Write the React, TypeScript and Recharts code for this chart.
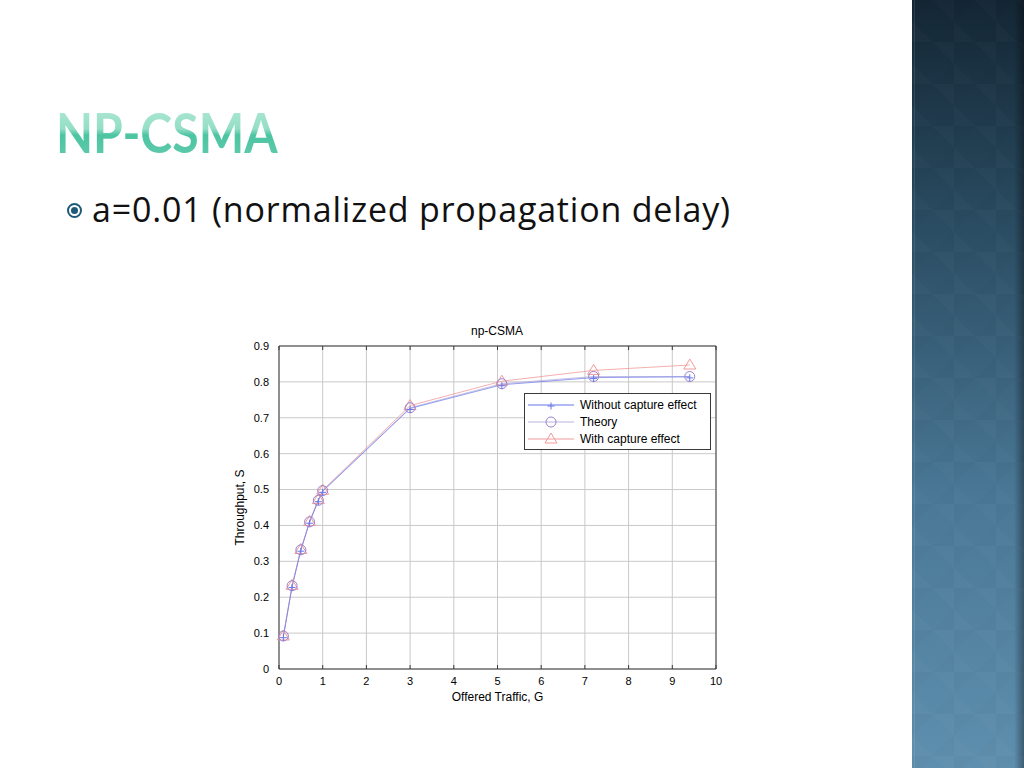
import React from "react";
import { LineChart, Line, XAxis, YAxis, CartesianGrid, Label } from "recharts";

// offered traffic G (x) and throughput S for each curve
const offeredTraffic = [0.1, 0.3, 0.5, 0.7, 0.9, 1, 3, 5.1, 7.2, 9.4];
const withoutCapture = [0.09, 0.23, 0.331, 0.409, 0.469, 0.495, 0.726, 0.792, 0.812, 0.814];
const theory = [0.092, 0.232, 0.332, 0.41, 0.47, 0.497, 0.728, 0.795, 0.815, 0.815];
const withCapture = [0.092, 0.233, 0.333, 0.411, 0.472, 0.498, 0.734, 0.802, 0.832, 0.847];

const xTicks = [0, 1, 2, 3, 4, 5, 6, 7, 8, 9, 10];
const yTicks = [0, 0.1, 0.2, 0.3, 0.4, 0.5, 0.6, 0.7, 0.8, 0.9];

const seriesNames = ["Without capture effect", "Theory", "With capture effect"];

const data = offeredTraffic.map((g, i) => ({
  g,
  without: withoutCapture[i],
  theory: theory[i],
  capture: withCapture[i],
}));

const BLUE = "#6677ea";
const PURPLE = "#9a80cc";
const THEORY_LINE = "#bab2de";
const PINK = "#f29a9a";
const AXIS = "#3a3a3a";
const FONT = "'Liberation Sans', Arial, sans-serif";

const PlusDot = (props: any) => {
  const { cx, cy } = props;
  if (cx == null || cy == null) return null;
  return (
    <g stroke={BLUE} strokeWidth={1}>
      <line x1={cx - 3.5} y1={cy + 1} x2={cx + 3.5} y2={cy + 1} />
      <line x1={cx} y1={cy - 2.5} x2={cx} y2={cy + 4.5} />
    </g>
  );
};

const CircleDot = (props: any) => {
  const { cx, cy } = props;
  if (cx == null || cy == null) return null;
  return <circle cx={cx} cy={cy} r={5} fill="none" stroke={PURPLE} strokeWidth={1} />;
};

const TriangleDot = (props: any) => {
  const { cx, cy } = props;
  if (cx == null || cy == null) return null;
  return (
    <polygon
      points={`${cx},${cy - 6} ${cx - 6},${cy + 4} ${cx + 6},${cy + 4}`}
      fill="none"
      stroke={PINK}
      strokeWidth={1}
    />
  );
};

const NoTick = () => <g />;

const legendIcons = [
  { color: BLUE, Dot: PlusDot },
  { color: THEORY_LINE, Dot: CircleDot },
  { color: PINK, Dot: TriangleDot },
];

function LegendBox() {
  return (
    <div
      style={{
        border: `1px solid ${AXIS}`,
        background: "#fff",
        width: 185,
        padding: "2px 0",
        fontFamily: FONT,
        fontSize: 12,
        color: "#000",
      }}
    >
      {seriesNames.map((name, i) => {
        const { color, Dot } = legendIcons[i];
        return (
          <div key={name} style={{ display: "flex", alignItems: "center", height: 17 }}>
            <svg width={52} height={14} style={{ marginLeft: 3 }}>
              <line x1={0} y1={7} x2={46} y2={7} stroke={color} strokeWidth={1} />
              <Dot cx={23} cy={7} />
            </svg>
            <span>{name}</span>
          </div>
        );
      })}
    </div>
  );
}

function YLabel(props: any) {
  const { viewBox } = props;
  const x = viewBox.x + 20;
  const y = viewBox.y + viewBox.height / 2;
  return (
    <text
      x={x}
      y={y}
      transform={`rotate(-90, ${x}, ${y})`}
      textAnchor="middle"
      dominantBaseline="central"
      fontSize={12}
      fontFamily={FONT}
      fill="#000"
    >
      Throughput, S
    </text>
  );
}

function Chart() {
  const tickStyle = { fontSize: 11, fontFamily: FONT, fill: "#000" };
  return (
    <LineChart
      width={520}
      height={400}
      data={data}
      margin={{ top: 26, right: 24, left: 0, bottom: 0 }}
    >
      <CartesianGrid stroke="#c9c9c9" strokeWidth={1} />
      <XAxis
        dataKey="g"
        type="number"
        domain={[0, 10]}
        ticks={xTicks}
        interval={0}
        height={51}
        tick={tickStyle}
        tickLine={false}
        axisLine={{ stroke: AXIS }}
        tickMargin={2}
      >
        <Label
          value="Offered Traffic, G"
          position="insideBottom"
          offset={19}
          style={{ fontSize: 12, fontFamily: FONT, fill: "#000" }}
        />
      </XAxis>
      <YAxis
        type="number"
        domain={[0, 0.9]}
        ticks={yTicks}
        interval={0}
        width={59}
        tick={tickStyle}
        tickLine={false}
        axisLine={{ stroke: AXIS }}
        tickMargin={4}
        label={<YLabel />}
      />
      {/* inward MATLAB-style tick marks and the box */}
      <XAxis xAxisId="bIn" dataKey="g" type="number" domain={[0, 10]} ticks={xTicks} interval={0}
        mirror tick={<NoTick />} tickSize={4} tickLine={{ stroke: AXIS }} axisLine={false} />
      <XAxis xAxisId="tIn" orientation="top" dataKey="g" type="number" domain={[0, 10]} ticks={xTicks}
        interval={0} mirror tick={<NoTick />} tickSize={4} tickLine={{ stroke: AXIS }} axisLine={{ stroke: AXIS }} />
      <YAxis yAxisId="lIn" type="number" domain={[0, 0.9]} ticks={yTicks} interval={0}
        mirror tick={<NoTick />} tickSize={4} tickLine={{ stroke: AXIS }} axisLine={false} />
      <YAxis yAxisId="rIn" orientation="right" type="number" domain={[0, 0.9]} ticks={yTicks}
        interval={0} mirror tick={<NoTick />} tickSize={4} tickLine={{ stroke: AXIS }} axisLine={{ stroke: AXIS }} />
      <Line
        dataKey="capture"
        name={seriesNames[2]}
        stroke={PINK}
        strokeWidth={0.8}
        dot={<TriangleDot />}
        isAnimationActive={false}
      />
      <Line
        dataKey="theory"
        name={seriesNames[1]}
        stroke={THEORY_LINE}
        strokeWidth={0.8}
        dot={<CircleDot />}
        isAnimationActive={false}
      />
      <Line
        dataKey="without"
        name={seriesNames[0]}
        stroke={BLUE}
        strokeWidth={0.7}
        dot={<PlusDot />}
        isAnimationActive={false}
      />
    </LineChart>
  );
}

export default function App() {
  return (
    <div
      style={{
        position: "absolute",
        left: 0,
        top: 0,
        width: 1024,
        height: 768,
        overflow: "hidden",
        background: "#fff",
      }}
    >
      {/* right decorative panel */}
      <div
        style={{
          position: "absolute",
          left: 912,
          top: 0,
          width: 112,
          height: 768,
          background: "linear-gradient(to bottom, #132634 0%, #2b4d63 30%, #4a7896 65%, #5e8fae 100%)",
        }}
      >
        <div
          style={{
            position: "absolute",
            inset: 0,
            backgroundImage:
              "linear-gradient(45deg, rgba(255,255,255,0.015) 25%, transparent 25%, transparent 75%, rgba(255,255,255,0.015) 75%), linear-gradient(-45deg, rgba(0,0,0,0.015) 25%, transparent 25%, transparent 75%, rgba(0,0,0,0.015) 75%)",
            backgroundSize: "42px 42px",
          }}
        />
        <div style={{ position: "absolute", left: 2, top: 0, width: 1, height: 768, background: "rgba(255,255,255,0.1)" }} />
        <div
          style={{
            position: "absolute",
            right: 0,
            top: 0,
            width: 10,
            height: 768,
            background: "linear-gradient(to right, rgba(0,0,0,0), rgba(0,0,0,0.35))",
          }}
        />
      </div>

      {/* slide title */}
      <div
        style={{
          position: "absolute",
          left: 56,
          top: 100,
          fontFamily: "Lato, 'Open Sans', sans-serif",
          fontWeight: 700,
          fontSize: 56,
          lineHeight: "64px",
          transform: "scaleX(0.86)",
          transformOrigin: "left top",
          background: "linear-gradient(to bottom, #b6ebd9 0%, #94dec6 45%, #4cc4a2 55%, #66ccae 100%)",
          WebkitBackgroundClip: "text",
          backgroundClip: "text",
          color: "transparent",
        }}
      >
        NP-CSMA
      </div>

      {/* bullet */}
      <div
        style={{
          position: "absolute",
          left: 67,
          top: 203,
          width: 15,
          height: 15,
          borderRadius: "50%",
          border: "2px solid #1e5a78",
          boxSizing: "border-box",
        }}
      >
        <div
          style={{
            position: "absolute",
            left: 2,
            top: 2,
            width: 7,
            height: 7,
            borderRadius: "50%",
            background: "#1e5a78",
          }}
        />
      </div>
      <div
        style={{
          position: "absolute",
          left: 92,
          top: 186,
          fontFamily: "'Open Sans', sans-serif",
          fontSize: 34,
          letterSpacing: 0.8,
          lineHeight: "46px",
          color: "#111",
          whiteSpace: "nowrap",
        }}
      >
        a=0.01 (normalized propagation delay)
      </div>

      {/* chart */}
      <div
        style={{
          position: "absolute",
          left: 420,
          top: 324,
          width: 154,
          textAlign: "center",
          fontFamily: FONT,
          fontSize: 12,
          color: "#000",
        }}
      >
        np-CSMA
      </div>
      <div style={{ position: "absolute", left: 220, top: 320, width: 520, height: 400 }}>
        <Chart />
        <div style={{ position: "absolute", left: 304, top: 73 }}>
          <LegendBox />
        </div>
      </div>
    </div>
  );
}
